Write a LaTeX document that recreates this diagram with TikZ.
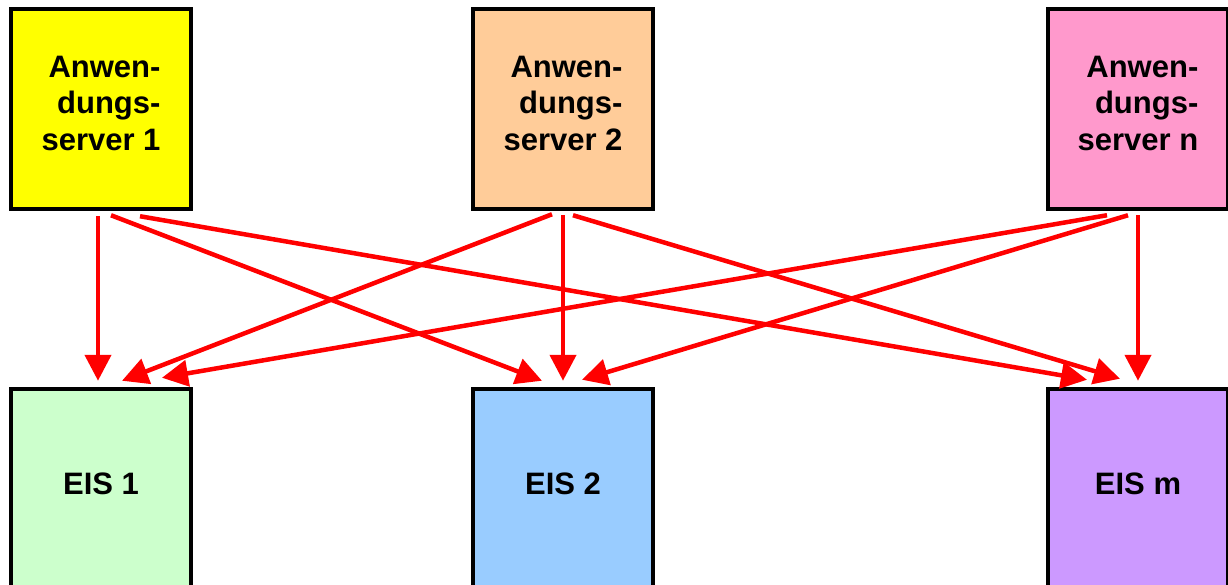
\documentclass[tikz,border=0pt]{standalone}
\usepackage{fontspec}
\setmainfont{Liberation Sans}
\usetikzlibrary{arrows.meta,calc}
\definecolor{cyellow}{HTML}{FFFF00}
\definecolor{cpeach}{HTML}{FFCC99}
\definecolor{cpink}{HTML}{FF99CC}
\definecolor{cgreen}{HTML}{CCFFCC}
\definecolor{cblue}{HTML}{99CCFF}
\definecolor{cpurple}{HTML}{CC99FF}
\definecolor{cred}{HTML}{FF0000}
\begin{document}
\begin{tikzpicture}[x=1pt,y=-1pt,
  box/.style={draw=black,line width=4.5pt,minimum width=180pt,minimum height=200pt,inner sep=0pt,
    font=\fontsize{31}{36.5}\selectfont\bfseries},
  srv/.style={box,align=right,text depth=12pt},
  eis/.style={box,text depth=10pt},
  link/.style={draw=cred,line width=4.5pt,-{Triangle[length=26pt,width=26pt]}}]
\useasboundingbox (0,0) rectangle (1228,585);
\clip (0,0) rectangle (1228,585);
\node[srv,fill=cyellow] (s1) at (101,109) {Anwen-\\dungs-\\server 1};
\node[srv,fill=cpeach] (s2) at (563,109) {Anwen-\\dungs-\\server 2};
\node[srv,fill=cpink] (sn) at (1138,109) {Anwen-\\dungs-\\server n};
\node[eis,fill=cgreen] (e1) at (101,489) {EIS 1};
\node[eis,fill=cblue] (e2) at (563,489) {EIS 2};
\node[eis,fill=cpurple] (em) at (1138,489) {EIS m};
% from server 1
\draw[link] ($(s1.south)+(-3,5)$) -- ($(e1.north)+(-3,-6)$);
\draw[link] ($(s1.south)+(10,4)$) -- ($(e2.north)+(-21,-6)$);
\draw[link] ($(s1.south)+(39,5)$) -- ($(em.north)+(-51,-7)$);
% from server 2
\draw[link] ($(s2.south)+(-11,3)$) -- ($(e1.north)+(21,-6)$);
\draw[link] ($(s2.south)+(0,4)$) -- ($(e2.north)+(0,-6)$);
\draw[link] ($(s2.south)+(10,4)$) -- ($(em.north)+(-18,-8)$);
% from server n
\draw[link] ($(sn.south)+(-31,4)$) -- ($(e1.north)+(61,-9)$);
\draw[link] ($(sn.south)+(-10,4)$) -- ($(e2.north)+(19,-7)$);
\draw[link] ($(sn.south)+(0,4)$) -- ($(em.north)+(0,-6)$);
\end{tikzpicture}
\end{document}
